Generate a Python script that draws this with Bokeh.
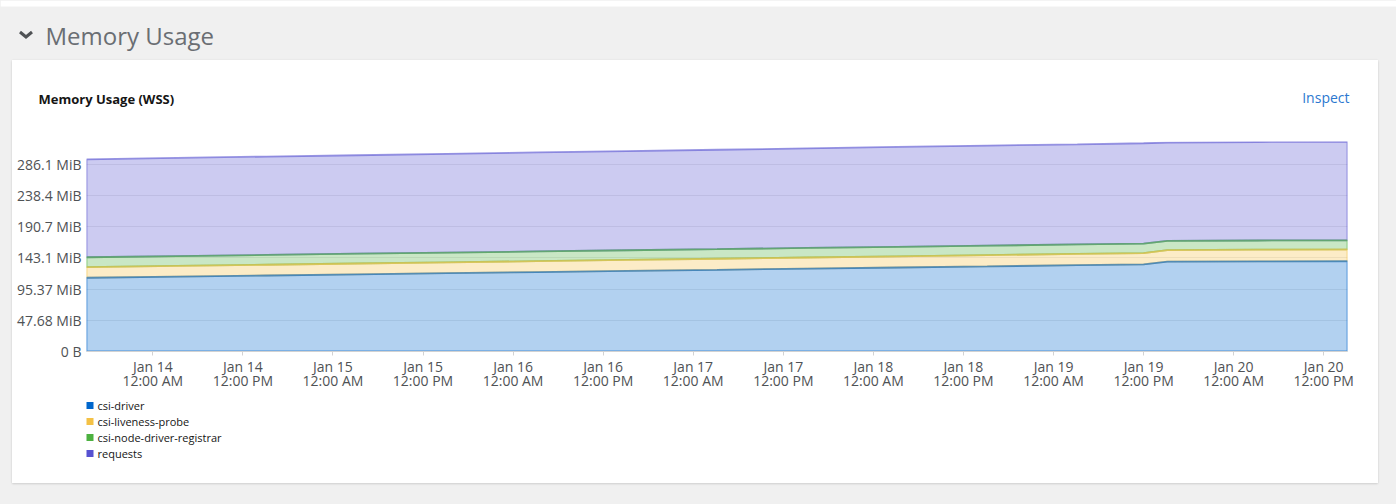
import pandas as pd
from bokeh.plotting import figure
from bokeh.models import Range1d, FixedTicker, DatetimeTickFormatter
from bokeh.layouts import column
from bokeh.core.properties import value
from bokeh.embed import file_html
from bokeh.resources import INLINE

# ---------------- data ----------------
times = ["2024-01-13 15:10", "2024-01-14 03:10", "2024-01-14 15:10", "2024-01-15 03:10",
         "2024-01-15 15:10", "2024-01-16 03:10", "2024-01-16 15:10", "2024-01-17 03:10",
         "2024-01-17 15:10", "2024-01-18 03:10", "2024-01-18 15:10", "2024-01-19 03:10",
         "2024-01-19 12:00", "2024-01-19 15:10", "2024-01-20 03:10", "2024-01-20 15:10"]
csi_driver = [112.7, 114.5, 116.2, 118.0, 119.7, 121.4, 123.2, 124.9,
              126.7, 128.4, 130.1, 131.9, 133.1, 137.4, 137.8, 138.1]
csi_liveness_probe = [16.2, 16.3, 16.4, 16.5, 16.6, 16.7, 16.8, 16.9,
                      17.0, 17.1, 17.2, 17.3, 17.4, 17.6, 17.8, 17.9]
csi_node_driver_registrar = [15.2, 15.1, 15.0, 15.0, 14.9, 14.8, 14.8, 14.7,
                             14.6, 14.5, 14.5, 14.4, 14.4, 14.2, 14.1, 14.0]
requests = [149.6, 150.0, 150.4, 150.5, 150.9, 151.4, 151.6, 151.9,
            152.2, 152.7, 153.0, 153.0, 153.4, 150.2, 150.5, 151.0]

series_names = ["csi-driver", "csi-liveness-probe", "csi-node-driver-registrar", "requests"]
series_values = [csi_driver, csi_liveness_probe, csi_node_driver_registrar, requests]
series_colors = ["#0066cc", "#f4c145", "#4cb140", "#5752d1"]

y_tick_values = [0, 47.684, 95.367, 143.051, 190.735, 238.419, 286.102]   # MiB
y_tick_labels = ["0 B", "47.68 MiB", "95.37 MiB", "143.1 MiB", "190.7 MiB", "238.4 MiB", "286.1 MiB"]

x_tick_times = ["2024-01-14 00:00", "2024-01-14 12:00", "2024-01-15 00:00", "2024-01-15 12:00",
                "2024-01-16 00:00", "2024-01-16 12:00", "2024-01-17 00:00", "2024-01-17 12:00",
                "2024-01-18 00:00", "2024-01-18 12:00", "2024-01-19 00:00", "2024-01-19 12:00",
                "2024-01-20 00:00", "2024-01-20 12:00"]

section_title = "Memory Usage"
chart_title = "Memory Usage (WSS)"
link_text = "Inspect"

FONT = "Open Sans"
GREY_BG = "#f0f0f0"
TEXT_GREY = "#4f5255"


def blank(width, height, bg):
    f = figure(width=width, height=height, x_range=Range1d(0, width), y_range=Range1d(height, 0),
               output_backend="svg", toolbar_location=None, min_border=0,
               x_axis_location=None, y_axis_location=None,
               background_fill_color=bg, border_fill_color=bg,
               outline_line_color=None, frame_align=False)
    f.grid.visible = False
    return f


# ---------------- header (section title on grey) ----------------
header = blank(1396, 60, GREY_BG)
header.quad(left=[0], right=[1396], top=[0], bottom=[6], fill_color="white", line_color=None)
header.line([19.5, 25.5, 31.5], [31.5, 36.5, 31.5], line_color="#4f5255", line_width=3,
            line_join="miter")
header.text(x=[45], y=[35], text=[section_title], text_font=value(FONT),
            text_font_size="24px", text_color="#6a6e73", text_baseline="middle",
            text_align="left")

# ---------------- card top: chart title + link ----------------
card_top = blank(1366, 71, "white")
card_top.text(x=[26], y=[38], text=[chart_title], text_font=value(FONT),
              text_font_size="13px", text_font_style="bold", text_color="#151515",
              text_baseline="middle", text_align="left")
card_top.text(x=[1337], y=[37], text=[link_text], text_font=value(FONT),
              text_font_size="14px", text_color="#2b78d0",
              text_baseline="middle", text_align="right")

# ---------------- chart ----------------
x = pd.to_datetime(times)
x_ticks = [t.value // 10**6 for t in pd.to_datetime(x_tick_times)]
totals = [sum(v) for v in zip(*series_values)]

p = figure(width=1366, height=264, x_axis_type="datetime",
           x_range=Range1d(x[0], x[-1]), y_range=Range1d(0, max(totals)),
           output_backend="svg", toolbar_location=None,
           min_border_left=74, min_border_right=31, min_border_top=10, min_border_bottom=44,
           background_fill_color="white", border_fill_color="white",
           outline_line_color=None, frame_align=False)

bases = []
cum = [0.0] * len(x)
for vals in series_values:
    bases.append(list(cum))
    cum = [c + v for c, v in zip(cum, vals)]

xs_list = list(x)
for i in reversed(range(len(series_values))):
    base = bases[i]
    top = [b + v for b, v in zip(base, series_values[i])]
    p.patch(xs_list + xs_list[::-1], top + base[::-1],
            fill_color=series_colors[i], fill_alpha=0.3,
            line_color=series_colors[i], line_alpha=0.6, line_width=1.8)

p.yaxis.ticker = FixedTicker(ticks=y_tick_values)
p.yaxis.major_label_overrides = dict(zip(y_tick_values, y_tick_labels))
p.yaxis.axis_line_color = None
p.yaxis.major_tick_line_color = None
p.yaxis.major_tick_out = 0
p.yaxis.major_tick_in = 0
p.yaxis.minor_tick_line_color = None
p.yaxis.minor_tick_out = 0
p.yaxis.major_label_standoff = 5
p.yaxis.major_label_text_font = FONT
p.yaxis.major_label_text_font_size = "14px"
p.yaxis.major_label_text_color = TEXT_GREY

fmt = "%b %d\n%I:%M %p"
p.xaxis.ticker = FixedTicker(ticks=x_ticks)
p.xaxis.formatter = DatetimeTickFormatter(
    microseconds=fmt, milliseconds=fmt, seconds=fmt, minsec=fmt, minutes=fmt,
    hourmin=fmt, hours=fmt, days=fmt, months=fmt, years=fmt)
p.xaxis.axis_line_color = "#d2d2d2"
p.xaxis.major_tick_line_color = "#d2d2d2"
p.xaxis.major_tick_out = 4
p.xaxis.major_tick_in = 0
p.xaxis.minor_tick_line_color = None
p.xaxis.minor_tick_out = 0
p.xaxis.major_label_standoff = 1
p.xaxis.major_label_text_font = FONT
p.xaxis.major_label_text_font_size = "14px"
p.xaxis.major_label_text_color = TEXT_GREY
p.xaxis.major_label_text_line_height = 0.75

p.xgrid.visible = False
p.ygrid.grid_line_color = "#ebebeb"
p.ygrid.grid_line_width = 1

# ---------------- card bottom: legend (solid swatches + names) ----------------
card_bottom = blank(1366, 88, "white")
rows = list(range(len(series_names)))
row_y = [10 + 16 * r for r in rows]
card_bottom.rect(x=[77.5] * len(rows), y=row_y, width=7, height=7,
                 fill_color=series_colors, line_color=None)
card_bottom.text(x=[85] * len(rows), y=row_y, text=series_names, text_font=value(FONT),
                 text_font_size="11px", text_color="#151515", text_baseline="middle",
                 text_align="left")

card = column(card_top, p, card_bottom, margin=(0, 18, 21, 12),
              styles={"background-color": "white",
                      "box-shadow": "0 1px 2px rgba(3,3,3,0.12), 0 0 2px rgba(3,3,3,0.06)"})
layout = column(header, card, styles={"background-color": GREY_BG})

open("out.html", "w").write(file_html(layout, INLINE))
